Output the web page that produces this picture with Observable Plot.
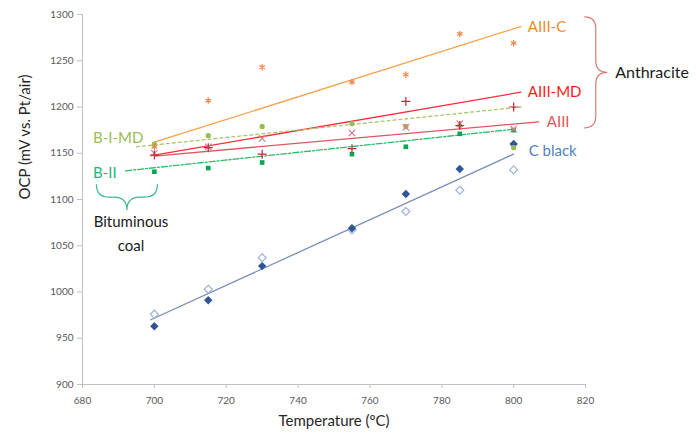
<!DOCTYPE html>
<html><head><meta charset="utf-8">
<script src="https://cdn.jsdelivr.net/npm/d3@7"></script>
<script src="https://cdn.jsdelivr.net/npm/@observablehq/plot@0.6"></script>
<style>
body{margin:0;background:#fff}
#chart{width:696px;height:434px}
g[aria-label="x-axis tick"], g[aria-label="y-axis tick"]{stroke:#bfbfbf}
</style>
</head><body><div id="chart"></div>
<script>
// ---- data ----
const temps = [700, 715, 730, 755, 770, 785, 800];
const aiiiC   = [1157, 1207, 1243, 1227, 1235, 1279, 1269];
const aiiiMD  = [1148, 1156, 1149, 1155, 1206, 1180, 1200];
const aiii    = [1150, 1157, 1166, 1172, 1178, 1182, 1176];
const biMD    = [1160, 1169, 1179, 1182, 1179, 1180, 1156];
const bII     = [1130, 1134, 1140, 1149, 1157, 1171, 1175];
const cBlackA = [963, 991, 1028, 1069, 1106, 1133, 1160];
const cBlackB = [976, 1003, 1037, 1067, 1087, 1110, 1132];

const seriesNames = ["AIII-C", "AIII-MD", "AIII", "B-I-MD", "B-II", "C black"];
const trendX0 = [700, 700, 700, 695, 692, 699];
const trendY0 = [1162, 1148, 1147, 1157, 1131, 970];
const trendX1 = [802, 802, 807, 802, 800, 800];
const trendY1 = [1287, 1216, 1184, 1200, 1176, 1149];

const xTicks = [680, 700, 720, 740, 760, 780, 800, 820];
const yTicks = [900, 950, 1000, 1050, 1100, 1150, 1200, 1250, 1300];

// ---- styling ----
const lineColor = {"AIII-C":"#F5A04A","AIII-MD":"#FF2B3C","AIII":"#DC5560","B-I-MD":"#A8C86A","B-II":"#2DB86A","C black":"#7A8CB8"};
const labelColor = {"AIII-C":"#F08A2E","AIII-MD":"#FF1A1A","AIII":"#DB5A55","B-I-MD":"#9BBB59","B-II":"#1FB57A","C black":"#4F81BD"};
const dash = {"B-I-MD":"3,3","B-II":"6,2,2,2"};
const labelPos = {
  "AIII-C": {at:"end", dx:7, dy:1, anchor:"start"},
  "AIII-MD": {at:"end", dx:7, dy:0, anchor:"start"},
  "AIII": {at:"end", dx:8, dy:0, anchor:"start"},
  "C black": {at:"end", dx:15, dy:-3, anchor:"start"},
  "B-I-MD": {at:"start", dx:7, dy:-9, anchor:"end"},
  "B-II": {at:"start", dx:-9, dy:2, anchor:"end"}
};

const trends = seriesNames.flatMap((s, i) => [
  {s, x: trendX0[i], y: trendY0[i]},
  {s, x: trendX1[i], y: trendY1[i]}
]);
const pts = (arr) => temps.map((t, i) => ({x: t, y: arr[i]}));

const FONT = "Lato, 'Open Sans', sans-serif";

const labelMarks = seriesNames.map((s, i) => {
  const p = labelPos[s];
  const d = p.at === "end" ? {x: trendX1[i], y: trendY1[i]} : {x: trendX0[i], y: trendY0[i]};
  return Plot.text([d], {x: "x", y: "y", text: () => s, dx: p.dx, dy: p.dy, textAnchor: p.anchor,
    fill: labelColor[s], fontSize: 15, fontFamily: FONT});
});

const plot = Plot.plot({
  width: 696, height: 434,
  marginLeft: 82, marginRight: 111, marginTop: 14, marginBottom: 50,
  style: {fontFamily: FONT, fontSize: "10px", color: "#595959", background: "white", overflow: "visible"},
  x: {domain: [680, 820], ticks: xTicks, tickSize: 4, tickPadding: 8, label: null, tickFormat: d => String(d)},
  y: {domain: [900, 1300], ticks: yTicks, tickSize: 5, tickPadding: 4, label: null, tickFormat: d => String(d)},
  marks: [
    Plot.ruleX([680], {stroke: "#bfbfbf"}),
    Plot.ruleY([900], {stroke: "#bfbfbf"}),
    ...seriesNames.map(s => Plot.line(trends.filter(d => d.s === s), {
      x: "x", y: "y", stroke: lineColor[s], strokeWidth: 1.3, strokeDasharray: dash[s] || null
    })),
    Plot.dot(pts(cBlackB), {x: "x", y: "y", symbol: "diamond2", r: 3.6, stroke: "#9FB3DA", fill: "white", strokeWidth: 1.2}),
    Plot.dot(pts(cBlackA), {x: "x", y: "y", symbol: "diamond2", r: 3.8, fill: "#2F5597", stroke: "none"}),
    Plot.dot(pts(bII), {x: "x", y: "y", symbol: "square", r: 2.6, fill: "#00A650", stroke: "none"}),
    Plot.dot(pts(biMD), {x: "x", y: "y", symbol: "circle", r: 2.6, fill: "#9BBB59", stroke: "none"}),
    Plot.dot(pts(aiii), {x: "x", y: "y", symbol: "times", r: 3, stroke: "#E07A8C", strokeWidth: 1.2}),
    Plot.dot(pts(aiiiMD), {x: "x", y: "y", symbol: "plus", r: 3, stroke: "#C8243C", strokeWidth: 1.2}),
    Plot.dot(pts(aiiiC), {x: "x", y: "y", symbol: "asterisk", r: 3, stroke: "#E8894A", strokeWidth: 1.2}),
    ...labelMarks,
    Plot.text(["Anthracite"], {x: () => 828.3, y: () => 1236.5, text: d => d, textAnchor: "start", fill: "#1a1a1a", fontSize: 16, fontFamily: FONT}),
    Plot.text(["Bituminous"], {x: () => 693.5, y: () => 1075, text: d => d, fill: "#1a1a1a", fontSize: 15, fontFamily: FONT}),
    Plot.text(["coal"], {x: () => 693.5, y: () => 1050, text: d => d, fill: "#1a1a1a", fontSize: 15, fontFamily: FONT}),
    Plot.text(["Temperature (ºC)"], {frameAnchor: "bottom", text: d => d, dy: 41, fill: "#262626", fontSize: 15, fontFamily: FONT}),
    Plot.text(["OCP (mV vs. Pt/air)"], {frameAnchor: "left", text: d => d, dx: -57, rotate: -90, fill: "#262626", fontSize: 15, fontFamily: FONT})
  ]
});

const X = v => plot.scale("x").apply(v), Y = v => plot.scale("y").apply(v);
function vbrace(x0, y0, y1, w) {
  const xm = x0 + w / 2, ym = (y0 + y1) / 2, r = w / 2;
  return `M${x0},${y0} Q${xm},${y0} ${xm},${y0 + r} L${xm},${ym - r} Q${xm},${ym} ${x0 + w},${ym} Q${xm},${ym} ${xm},${ym + r} L${xm},${y1 - r} Q${xm},${y1} ${x0},${y1}`;
}
function hbrace(x0, x1, y0, h) {
  const ym = y0 + h / 2, xm = (x0 + x1) / 2, r = h / 2;
  return `M${x0},${y0} Q${x0},${ym} ${x0 + r},${ym} L${xm - r},${ym} Q${xm},${ym} ${xm},${y0 + h} Q${xm},${ym} ${xm + r},${ym} L${x1 - r},${ym} Q${x1},${ym} ${x1},${y0}`;
}
const svg = d3.select(plot);
svg.append("path").attr("d", vbrace(X(819.8), Y(1297), Y(1177), X(826.2) - X(819.8)))
  .attr("fill", "none").attr("stroke", "#D9797A").attr("stroke-width", 1.2);
svg.append("path").attr("d", hbrace(X(684), X(701), Y(1116), Y(1088) - Y(1116)))
  .attr("fill", "none").attr("stroke", "#3DB88A").attr("stroke-width", 1.2);

document.getElementById("chart").appendChild(plot);
</script>
</body></html>
